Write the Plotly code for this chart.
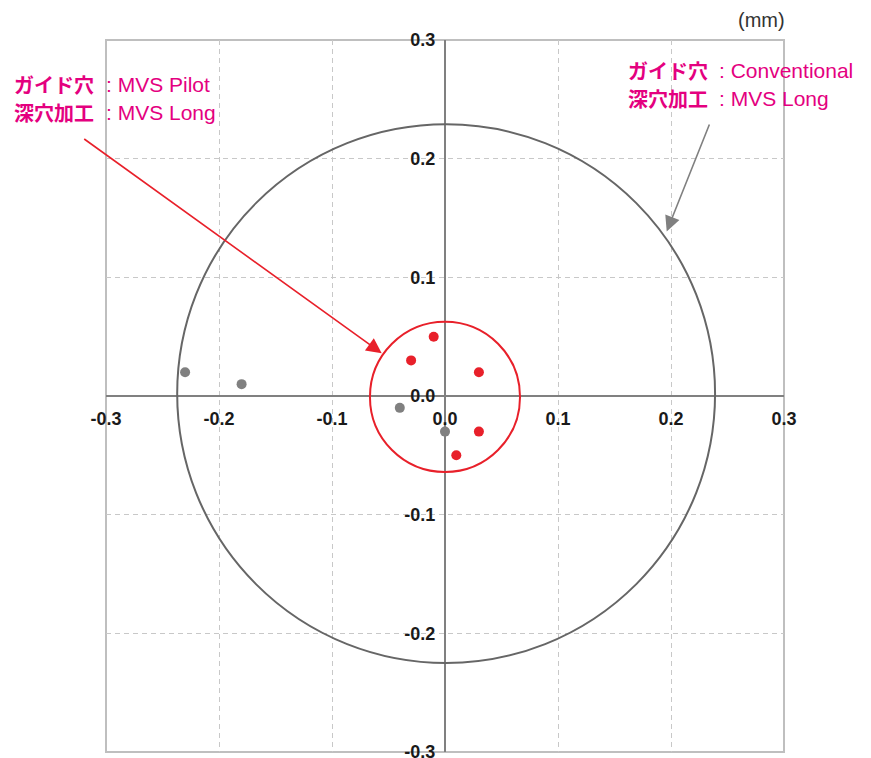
import plotly.graph_objects as go

# ---- data ----
tick_vals = [-0.3, -0.2, -0.1, 0.0, 0.1, 0.2, 0.3]
tick_text = ["-0.3", "-0.2", "-0.1", "0.0", "0.1", "0.2", "0.3"]

gray_x = [-0.23, -0.18, -0.04, 0.00]
gray_y = [0.02, 0.01, -0.01, -0.03]
red_x = [-0.01, -0.03, 0.03, 0.03, 0.01]
red_y = [0.05, 0.03, 0.02, -0.03, -0.05]

# circles (data coords): x0, y0, x1, y1
gray_circle = [-0.237, -0.225, 0.239, 0.229]
red_circle = [-0.0664, -0.064, 0.0664, 0.0625]

# arrows: head (x, y), tail (ax, ay) in data coords
red_arrow = [-0.0560, 0.0360, -0.3206, 0.2175]
gray_arrow = [0.1962, 0.1387, 0.2345, 0.2301]

labels_left = ["ガイド穴", "深穴加工"]
values_left = [": MVS Pilot", ": MVS Long"]
labels_right = ["ガイド穴", "深穴加工"]
values_right = [": Conventional", ": MVS Long"]

MAGENTA = "#E4007F"
RED = "#E8202A"
GRAY = "#808080"

fig = go.Figure()
fig.add_trace(go.Scatter(x=gray_x, y=gray_y, mode="markers",
                         marker=dict(size=10, color=GRAY), showlegend=False))
fig.add_trace(go.Scatter(x=red_x, y=red_y, mode="markers",
                         marker=dict(size=10, color=RED), showlegend=False))

# page body has an 8px margin
OFF = 8
W, H = 863, 750
ml, mr, mt, mb = 98, 87, 32, 6
pw, ph = W - ml - mr, H - mt - mb
left_px, bottom_px = OFF + ml, OFF + H - mb  # page pixels of plot-area edges

def px(x):
    return (x - left_px) / pw

def py(y):
    return (bottom_px - y) / ph

tickfont = dict(family="Liberation Sans, Arial, sans-serif", size=18,
                color="#1a1a1a", weight="bold")
axis_common = dict(range=[-0.3, 0.3], tickvals=tick_vals, ticktext=tick_text,
                   showgrid=True, gridcolor="#c8c8c8", griddash="5px,4px", gridwidth=1,
                   zeroline=True, zerolinecolor=GRAY, zerolinewidth=2,
                   showline=False, ticks="outside", tickcolor="rgba(0,0,0,0)",
                   tickfont=tickfont, anchor="free", position=0.5, fixedrange=True,
                   ticklabeloverflow="allow", automargin=False)

fig.update_layout(
    width=W, height=H,
    margin=dict(l=ml, r=mr, t=mt, b=mb, autoexpand=False),
    paper_bgcolor="white", plot_bgcolor="white",
    xaxis=dict(**axis_common, ticklen=6),
    yaxis=dict(**axis_common, ticklen=6),
    showlegend=False,
)

shapes = [
    dict(type="rect", xref="paper", yref="paper", x0=0, y0=0, x1=1, y1=1,
         line=dict(color="#bfbfbf", width=2), layer="below"),
    dict(type="circle", xref="x", yref="y",
         x0=gray_circle[0], y0=gray_circle[1], x1=gray_circle[2], y1=gray_circle[3],
         line=dict(color="#666666", width=2)),
    dict(type="circle", xref="x", yref="y",
         x0=red_circle[0], y0=red_circle[1], x1=red_circle[2], y1=red_circle[3],
         line=dict(color=RED, width=2)),
]
fig.update_layout(shapes=shapes)

cjk = dict(family="Noto Sans CJK JP, sans-serif", size=20, color=MAGENTA, weight="bold")
lat = dict(family="Liberation Sans, Arial, sans-serif", size=21, color=MAGENTA)

anns = []
left_rows = [85, 113]
right_rows = [70, 99]
for i in range(2):
    anns.append(dict(xref="paper", yref="paper", x=px(12), y=py(left_rows[i]),
                     xanchor="left", yanchor="middle", text=labels_left[i],
                     showarrow=False, font=cjk))
    anns.append(dict(xref="paper", yref="paper", x=px(104), y=py(left_rows[i]),
                     xanchor="left", yanchor="middle", text=values_left[i],
                     showarrow=False, font=lat))
    anns.append(dict(xref="paper", yref="paper", x=px(626), y=py(right_rows[i]),
                     xanchor="left", yanchor="middle", text=labels_right[i],
                     showarrow=False, font=cjk))
    anns.append(dict(xref="paper", yref="paper", x=px(717), y=py(right_rows[i]),
                     xanchor="left", yanchor="middle", text=values_right[i],
                     showarrow=False, font=lat))

anns.append(dict(xref="paper", yref="paper", x=px(787), y=py(20),
                 xanchor="right", yanchor="middle", text="(mm)", showarrow=False,
                 font=dict(family="Liberation Sans, Arial, sans-serif", size=20,
                           color="#333333")))

for arr, col in [(red_arrow, RED), (gray_arrow, GRAY)]:
    anns.append(dict(xref="x", yref="y", axref="x", ayref="y",
                     x=arr[0], y=arr[1], ax=arr[2], ay=arr[3], text="",
                     showarrow=True, arrowhead=2, arrowsize=1.9, arrowwidth=1.6,
                     arrowcolor=col, standoff=0, startstandoff=0))

fig.update_layout(annotations=anns)

fig.write_html("out.html")
